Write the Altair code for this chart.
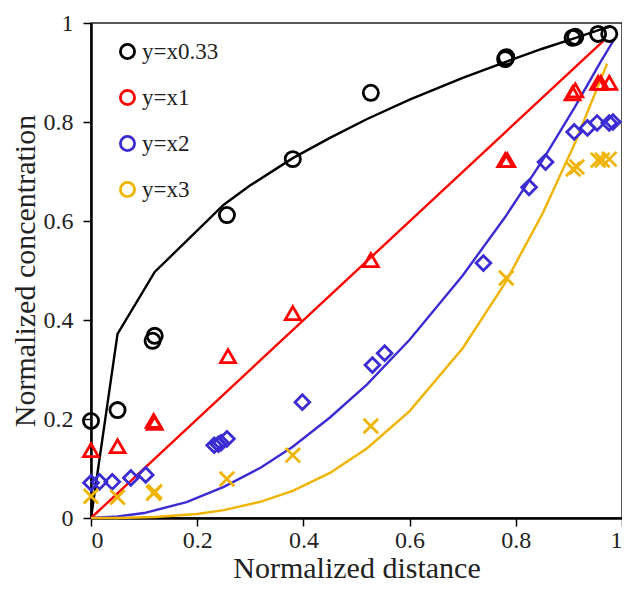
import altair as alt
import pandas as pd

series = ["y=x0.33", "y=x1", "y=x2", "y=x3"]
colors = ["#000000", "#FF0000", "#3B2BD3", "#F0B400"]
shapes = ["circle", "triangle-up", "diamond", "M-1,-1L1,1M-1,1L1,-1"]
sizes = [230, 210, 200, 290]

# measured points
circ_x = [0, 0.05, 0.116, 0.12, 0.256, 0.38, 0.527, 0.78, 0.782, 0.907, 0.912, 0.955, 0.976]
circ_y = [0.196, 0.218, 0.358, 0.368, 0.612, 0.725, 0.859, 0.927, 0.931, 0.970, 0.972, 0.978, 0.978]

tri_x = [0, 0.05, 0.118, 0.12, 0.258, 0.38, 0.527, 0.78, 0.784, 0.907, 0.912, 0.955, 0.96, 0.976]
tri_y = [0.137, 0.145, 0.196, 0.192, 0.327, 0.414, 0.521, 0.723, 0.723, 0.858, 0.864, 0.879, 0.879, 0.879]

dia_x = [0, 0.016, 0.04, 0.075, 0.103, 0.232, 0.24, 0.245, 0.256, 0.398, 0.53, 0.553,
         0.739, 0.825, 0.856, 0.91, 0.935, 0.953, 0.976, 0.983]
dia_y = [0.071, 0.073, 0.073, 0.081, 0.087, 0.147, 0.149, 0.152, 0.160, 0.234, 0.309, 0.333,
         0.515, 0.668, 0.719, 0.78, 0.788, 0.798, 0.798, 0.80]

crs_x = [0, 0.05, 0.118, 0.12, 0.256, 0.38, 0.527, 0.782, 0.908, 0.915, 0.955, 0.963, 0.976]
crs_y = [0.044, 0.042, 0.050, 0.053, 0.079, 0.127, 0.186, 0.485, 0.705, 0.709, 0.723, 0.723, 0.725]

# model curves
blk_lx = [0, 0.05, 0.12, 0.25, 0.3, 0.38, 0.45, 0.52, 0.6, 0.7, 0.78, 0.85, 0.91, 0.96, 0.98]
blk_ly = [0, 0.372, 0.497, 0.633, 0.672, 0.727, 0.768, 0.806, 0.845, 0.889, 0.921, 0.948, 0.969, 0.987, 0.993]
red_lx = [0, 0.967]
red_ly = [0, 0.966]
blu_lx = [0, 0.05, 0.1, 0.18, 0.25, 0.32, 0.38, 0.45, 0.52, 0.6, 0.7, 0.78, 0.85, 0.91, 0.96, 0.987]
blu_ly = [0, 0.003, 0.01, 0.032, 0.063, 0.102, 0.144, 0.203, 0.27, 0.36, 0.49, 0.608, 0.722, 0.828, 0.922, 0.97]
yel_lx = [0, 0.05, 0.12, 0.2, 0.25, 0.32, 0.38, 0.45, 0.52, 0.6, 0.7, 0.78, 0.85, 0.91, 0.972]
yel_ly = [0, 0.0001, 0.002, 0.008, 0.016, 0.033, 0.055, 0.091, 0.141, 0.216, 0.343, 0.475, 0.614, 0.754, 0.918]

pts = []
for s, xs, ys in zip(series, [circ_x, tri_x, dia_x, crs_x], [circ_y, tri_y, dia_y, crs_y]):
    for a, b in zip(xs, ys):
        pts.append({"s": s, "x": a, "y": b})
pts = pd.DataFrame(pts)

lines = []
for s, xs, ys in zip(series, [blk_lx, red_lx, blu_lx, yel_lx], [blk_ly, red_ly, blu_ly, yel_ly]):
    for i, (a, b) in enumerate(zip(xs, ys)):
        lines.append({"ls": s, "x": a, "y": b, "o": i})
lines = pd.DataFrame(lines)

FONT = "Liberation Serif"
ticks = [0, 0.2, 0.4, 0.6, 0.8, 1]

xenc = alt.X("x:Q", scale=alt.Scale(domain=[0, 1], nice=False, zero=False),
             axis=alt.Axis(values=ticks, format="~g", title="Normalized distance",
                           titlePadding=1, labelPadding=2))
yenc = alt.Y("y:Q", scale=alt.Scale(domain=[0, 1], nice=False, zero=False),
             axis=alt.Axis(values=ticks, format="~g", title="Normalized concentration",
                           titlePadding=3, labelPadding=10))

line_layer = alt.Chart(lines).mark_line(strokeWidth=2.4).encode(
    x=xenc, y=yenc, order="o:Q",
    color=alt.Color("ls:N", scale=alt.Scale(domain=series, range=colors), legend=None),
)

point_layer = alt.Chart(pts).mark_point(filled=False, strokeWidth=2.8, opacity=1).encode(
    x="x:Q", y="y:Q",
    color=alt.Color("s:N", scale=alt.Scale(domain=series, range=colors),
                    legend=alt.Legend(title=None, orient="none", legendX=25, legendY=17,
                                      symbolStrokeWidth=2.8, symbolSize=200,
                                      labelFont=FONT, labelFontSize=23, labelColor="#222",
                                      rowPadding=19, labelOffset=3, padding=0,
                                      symbolFillColor="transparent")),
    shape=alt.Shape("s:N", scale=alt.Scale(domain=series, range=shapes), legend=None),
    size=alt.Size("s:N", scale=alt.Scale(domain=series, range=sizes), legend=None),
)

chart = alt.layer(line_layer, point_layer).resolve_scale(color="independent").properties(
    width=531, height=495,
    autosize=alt.AutoSizeParams(type="none"),
    padding={"left": 83, "top": 15, "right": 0, "bottom": 65},
).configure_view(stroke="#222", strokeWidth=1.5).configure_axis(
    grid=False, domainColor="black", domainWidth=2.5, tickColor="black", tickWidth=1.5,
    tickSize=8, labelFont=FONT, labelFontSize=24, labelColor="#222",
    titleFont=FONT, titleFontSize=30, titleFontWeight="normal", titleColor="#222",
)

chart.save("out.html", embed_options={"renderer": "svg", "actions": False})
